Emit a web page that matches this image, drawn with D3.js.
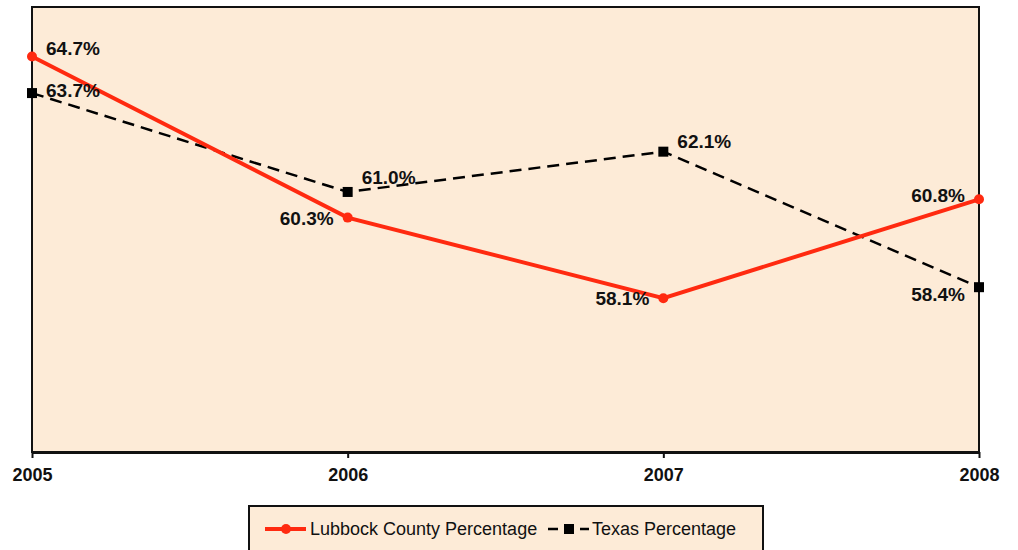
<!DOCTYPE html>
<html>
<head>
<meta charset="utf-8">
<script src="https://cdn.jsdelivr.net/npm/d3@7"></script>
<style>
  body { margin: 0; background: #fff; }
  svg { display: block; font-family: Arial, "Liberation Sans", sans-serif; }
</style>
</head>
<body>
<svg id="chart" width="1018" height="550"></svg>
<script>
const years = ['2005', '2006', '2007', '2008']
const lubbock = [64.7, 60.3, 58.1, 60.8]
const texas = [63.7, 61.0, 62.1, 58.4]
// label placement per point: side, dy
const lubbockLabelPos = [['r', -8], ['l', 1], ['l', 0], ['l', -4]]
const texasLabelPos = [['r', -3], ['r', -15], ['r', -10], ['l', 7]]

const margin = { left: 32, right: 39, top: 7, bottom: 98 }
const width = 1018
const height = 550
const innerWidth = width - margin.left - margin.right
const innerHeight = height - margin.top - margin.bottom

const svg = d3.select('#chart')

const x = d3.scalePoint()
  .domain(years)
  .range([0, innerWidth])
const y = d3.scaleLinear()
  .domain([53.9, 66.05])
  .range([innerHeight, 0])

const g = svg.append('g')
  .attr('transform', `translate(${margin.left},${margin.top})`)

// plot area
g.append('rect')
  .attr('x', 0)
  .attr('y', 0)
  .attr('width', innerWidth)
  .attr('height', innerHeight)
  .attr('fill', '#fdebd7')
  .attr('stroke', '#111')
  .attr('stroke-width', 2)

// x axis
const xAxis = d3.axisBottom(x).tickSize(6).tickSizeOuter(0)
const ax = g.append('g')
  .attr('transform', `translate(0,${innerHeight})`)
  .call(xAxis)
ax.select('.domain').attr('stroke', '#111').attr('stroke-width', 3)
ax.selectAll('.tick line').attr('stroke', '#111').attr('stroke-width', 2)
ax.selectAll('.tick text')
  .attr('y', 16)
  .attr('dy', '0.71em')
  .attr('font-size', 18)
  .attr('font-weight', 'bold')
  .attr('fill', '#111')

const line = d3.line()
  .x((d, i) => x(years[i]))
  .y(d => y(d))

// Texas series (dashed)
g.append('path')
  .datum(texas)
  .attr('d', line)
  .attr('fill', 'none')
  .attr('stroke', '#000')
  .attr('stroke-width', 2.5)
  .attr('stroke-dasharray', '12,7')
g.selectAll('.tx')
  .data(texas)
  .join('rect')
  .attr('class', 'tx')
  .attr('x', (d, i) => x(years[i]) - 5)
  .attr('y', d => y(d) - 5)
  .attr('width', 10)
  .attr('height', 10)
  .attr('fill', '#000')

// Lubbock series
g.append('path')
  .datum(lubbock)
  .attr('d', line)
  .attr('fill', 'none')
  .attr('stroke', '#ff2a10')
  .attr('stroke-width', 4)
g.selectAll('.lb')
  .data(lubbock)
  .join('circle')
  .attr('class', 'lb')
  .attr('cx', (d, i) => x(years[i]))
  .attr('cy', d => y(d))
  .attr('r', 5)
  .attr('fill', '#ff2a10')

// data labels
function addLabels (values, pos) {
  g.selectAll(null)
    .data(values)
    .join('text')
    .attr('x', (d, i) => x(years[i]) + (pos[i][0] === 'r' ? 14 : -14))
    .attr('y', (d, i) => y(d) + pos[i][1])
    .attr('dy', '0.35em')
    .attr('text-anchor', (d, i) => pos[i][0] === 'r' ? 'start' : 'end')
    .attr('font-size', 19)
    .attr('font-weight', 'bold')
    .attr('fill', '#111')
    .text(d => d.toFixed(1) + '%')
}
addLabels(lubbock, lubbockLabelPos)
addLabels(texas, texasLabelPos)

// legend
const legend = svg.append('g').attr('transform', 'translate(249,506)')
legend.append('rect')
  .attr('width', 514)
  .attr('height', 60)
  .attr('fill', '#fdebd7')
  .attr('stroke', '#111')
  .attr('stroke-width', 2)
const ly = 23
legend.append('line')
  .attr('x1', 16).attr('x2', 57).attr('y1', ly).attr('y2', ly)
  .attr('stroke', '#ff2a10').attr('stroke-width', 4)
legend.append('circle')
  .attr('cx', 37).attr('cy', ly).attr('r', 5).attr('fill', '#ff2a10')
legend.append('text')
  .attr('x', 61).attr('y', ly).attr('dy', '0.35em')
  .attr('font-size', 18).attr('fill', '#111')
  .text('Lubbock County Percentage')
legend.append('line')
  .attr('x1', 299).attr('x2', 340).attr('y1', ly).attr('y2', ly)
  .attr('stroke', '#000').attr('stroke-width', 2.5)
  .attr('stroke-dasharray', '10,6')
legend.append('rect')
  .attr('x', 315).attr('y', ly - 5).attr('width', 10).attr('height', 10).attr('fill', '#000')
legend.append('text')
  .attr('x', 343).attr('y', ly).attr('dy', '0.35em')
  .attr('font-size', 18).attr('fill', '#111')
  .text('Texas Percentage')
</script>
</body>
</html>
